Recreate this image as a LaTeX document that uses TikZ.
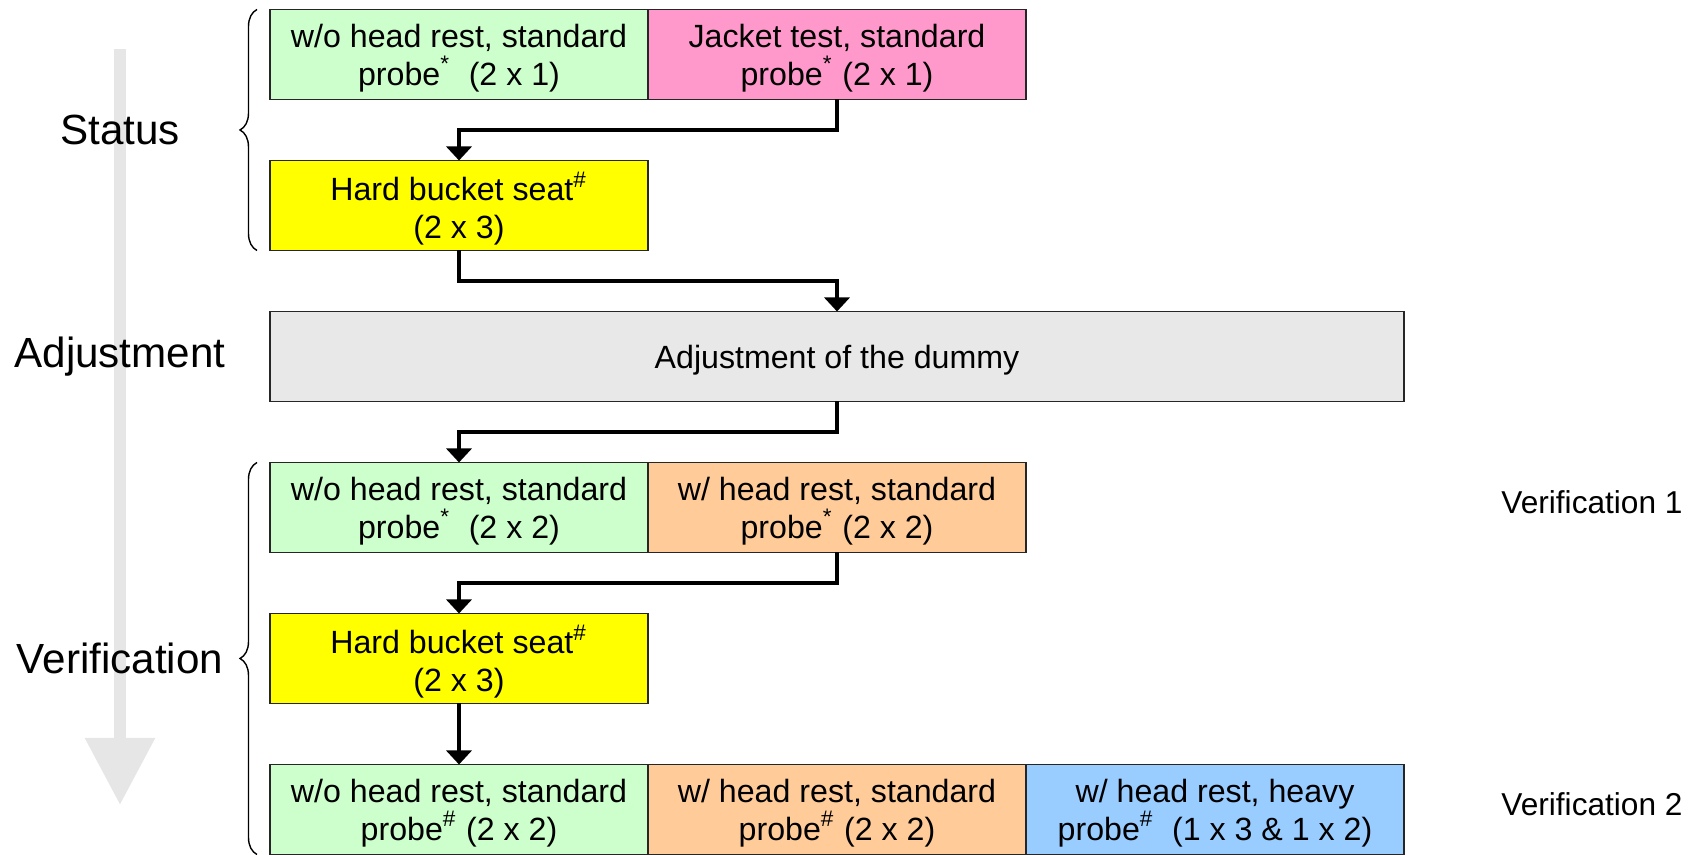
\documentclass[tikz,border=0pt]{standalone}
\usepackage{fontspec}
\setmainfont{Liberation Sans}
\usetikzlibrary{positioning, arrows.meta, calc, decorations.pathreplacing}

\definecolor{probegreen}{HTML}{CCFFCC}
\definecolor{jacketpink}{HTML}{FF99CC}
\definecolor{seatyellow}{HTML}{FFFF00}
\definecolor{adjustgray}{HTML}{E8E8E8}
\definecolor{headorange}{HTML}{FFCC99}
\definecolor{heavyblue}{HTML}{99CCFF}
\definecolor{axisgray}{HTML}{E6E6E6}

\begin{document}
\begin{tikzpicture}[
  node distance=0.61cm and 0pt,
  stage/.style={draw=black!85, line width=0.5pt, minimum width=3.78cm, minimum height=0.9cm, inner sep=0pt, outer sep=0pt, align=center, text depth=-0.3pt, font=\fontsize{9.15}{10.8}\selectfont},
  widestage/.style={stage, minimum width=11.34cm},
  phase/.style={font=\fontsize{12}{14}\selectfont},
  runlabel/.style={font=\fontsize{9}{10.5}\selectfont},
  flow/.style={line width=1.2pt, -{Triangle[width=0.25cm, length=0.14cm]}},
  bracket/.style={decorate, decoration={brace, amplitude=0.17cm}, line width=0.4pt}
]
\useasboundingbox (0,0) rectangle (16.95,8.55);

% Time axis in the background
\coordinate (lanex) at (1.20,0);
\coordinate (flowtop) at (1.20,8.06);
\coordinate (flowend) at (1.20,0.50);
\draw[line width=0.125cm, draw=axisgray, -{Triangle[width=0.67cm, length=0.67cm]}] (flowtop) -- (flowend);

% Status
\node[stage, fill=probegreen] (s1) at (4.59,8.005) {w/o head rest, standard\\probe\textsuperscript{*}~ (2 x 1)};
\node[stage, fill=jacketpink, right=of s1] (s2) {Jacket test, standard\\probe\textsuperscript{*} (2 x 1)};
\node[stage, fill=seatyellow, below=of s1] (hb1) {Hard bucket seat\textsuperscript{\#}\\(2 x 3)};

% Adjustment
\node[widestage, fill=adjustgray, below=of hb1.south west, anchor=north west] (adj) {Adjustment of the dummy};

% Verification
\node[stage, fill=probegreen, below=of adj.south west, anchor=north west] (v1a) {w/o head rest, standard\\probe\textsuperscript{*}~ (2 x 2)};
\node[stage, fill=headorange, right=of v1a] (v1b) {w/ head rest, standard\\probe\textsuperscript{*} (2 x 2)};
\node[stage, fill=seatyellow, below=of v1a] (hb2) {Hard bucket seat\textsuperscript{\#}\\(2 x 3)};
\node[stage, fill=probegreen, below=of hb2] (v2a) {w/o head rest, standard\\probe\textsuperscript{\#} (2 x 2)};
\node[stage, fill=headorange, right=of v2a] (v2b) {w/ head rest, standard\\probe\textsuperscript{\#} (2 x 2)};
\node[stage, fill=heavyblue, right=of v2b] (v2c) {w/ head rest, heavy\\probe\textsuperscript{\#}~ (1 x 3 \& 1 x 2)};

% Run labels
\node[runlabel, right=0.85cm of v2c, yshift=0.05cm] (ver2) {Verification 2};
\node[runlabel, anchor=west, yshift=0.05cm] (ver1) at (ver2.west |- v1b) {Verification 1};

% Phase labels
\node[phase] (status) at ($(lanex |- s1)!0.5!(lanex |- hb1)$) {Status};
\node[phase] (adjust) at (lanex |- adj) {Adjustment};
\node[phase] (verif) at (lanex |- hb2) {Verification};

% Braces
\draw[bracket] ([xshift=-0.13cm]hb1.south west) -- ([xshift=-0.13cm]s1.north west);
\draw[bracket] ([xshift=-0.13cm]v2a.south west) -- ([xshift=-0.13cm]v1a.north west);

% Flow between the steps
\draw[flow] (s2.south) -- ++(0,-0.305) -| (hb1.north);
\draw[flow] (hb1.south) -- ++(0,-0.305) -| (adj.north);
\draw[flow] (adj.south) -- ++(0,-0.305) -| (v1a.north);
\draw[flow] (v1b.south) -- ++(0,-0.305) -| (hb2.north);
\draw[flow] (hb2.south) -- (v2a.north);

\end{tikzpicture}
\end{document}
